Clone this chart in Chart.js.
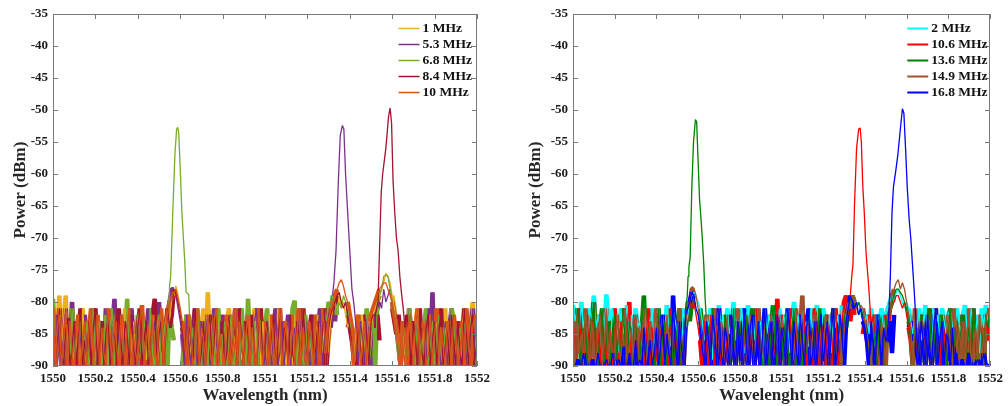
<!DOCTYPE html>
<html lang="en">
<head>
<meta charset="UTF-8">
<title>Spectra</title>
<script src="https://cdn.jsdelivr.net/npm/chart.js"></script>
<style>
  body { margin: 0; background: #fff; }
  .wrap { display: flex; width: 1008px; height: 406px; }
  canvas { display: block; }
</style>
</head>
<body>
<div class="wrap">
  <canvas id="leftChart" width="504" height="406"></canvas>
  <canvas id="rightChart" width="504" height="406"></canvas>
</div>
<script>
// sample grid of the noise floor (nm), 201 samples
const gridStart = 1550, gridStep = 0.01;

const xTicks = [1550, 1550.2, 1550.4, 1550.6, 1550.8, 1551, 1551.2, 1551.4, 1551.6, 1551.8, 1552];
const xTickLabels = ['1550', '1550.2', '1550.4', '1550.6', '1550.8', '1551', '1551.2', '1551.4', '1551.6', '1551.8', '1552'];
const yTicks = [-90, -85, -80, -75, -70, -65, -60, -55, -50, -45, -40, -35];

// ---- left panel ----
const leftLabels = ['1 MHz', '5.3 MHz', '6.8 MHz', '8.4 MHz', '10 MHz'];
const leftColors = ['#EDB120', '#7E2F8E', '#77AC30', '#A2142F', '#D95319'];
// wavelength ranges where the noise floor stays off the bottom (white under the side lobes)
const leftGaps = [[1550.575, 1550.6], [1551.35, 1551.38], [1551.545, 1551.59]];

const noise1 = [
  -80,-90,-84,-79,-88,-83,-79,-90,-85,-82,-90,-87,-83,-90,-81,-86,-90,-84,-89,-82,
  -90,-85,-83,-90,-87,-81,-90,-84,-88,-82,-90,-86,-83,-90,-81,-85,-90,-88,-83,-90,
  -84,-81,-90,-86,-89,-83,-90,-82,-85,-90,-87,-82,-90,-84,-81,-83,-80,-79,-77.5,-79,
  -81,-84,-86,-90,-83,-88,-90,-82,-85,-90,-84,-81,-90,-78.5,-86,-90,-83,-88,-82,-90,
  -85,-90,-83,-81,-90,-87,-84,-90,-82,-89,-85,-90,-83,-86,-90,-81,-88,-84,-90,-83,
  -90,-86,-82,-90,-85,-88,-81,-90,-84,-87,-90,-83,-86,-90,-82,-89,-85,-90,-81,-84,
  -90,-87,-83,-90,-85,-82,-90,-88,-84,-90,-86,-83,-81,-80,-82,-79,-81,-80,-82,-84,
  -83,-85,-90,-84,-88,-90,-82,-86,-90,-83,-87,-82,-81,-80,-79,-78,-77,-75.5,-76,-77,
  -79,-81,-84,-86,-90,-83,-88,-90,-82,-85,-90,-84,-81,-90,-87,-83,-90,-85,-82,-90,
  -86,-83,-90,-84,-88,-81,-90,-85,-82,-90,-87,-83,-90,-84,-81,-86,-90,-83,-80,-88,
  -84];
const noise53 = [
  -84,-90,-82,-87,-90,-85,-81,-90,-86,-80,-88,-90,-83,-86,-90,-82,-89,-84,-90,-81,
  -86,-90,-83,-85,-90,-81,-88,-90,-84,-79.5,-90,-85,-82,-90,-87,-83,-90,-81,-86,-90,
  -84,-88,-82,-90,-85,-81,-90,-86,-83,-90,-80,-87,-90,-84,-82,-80,-78,-78,-79,-81,
  -83,-85,-90,-82,-86,-90,-84,-81,-90,-87,-83,-90,-85,-82,-90,-88,-81,-86,-90,-84,
  -82,-90,-87,-83,-90,-85,-81,-89,-90,-84,-86,-90,-82,-88,-90,-83,-81,-90,-85,-87,
  -90,-82,-86,-90,-84,-81,-90,-88,-83,-90,-85,-82,-90,-86,-84,-90,-81,-87,-90,-83,
  -85,-90,-82,-88,-90,-84,-81,-90,-86,-83,-82,-84,-80,-83,-79,-80,-81,-80,-81,-84,
  -83,-86,-85,-88,-90,-83,-86,-90,-82,-85,-90,-84,-82,-81,-80,-81,-78,-80,-79,-78,
  -80,-82,-84,-87,-90,-83,-86,-90,-81,-85,-90,-88,-82,-90,-84,-86,-90,-81,-88,-78.5,
  -90,-85,-82,-90,-87,-83,-90,-84,-81,-90,-86,-83,-90,-85,-82,-89,-90,-84,-81,-87,
  -90];
const noise68 = [
  -79.5,-90,-85,-82,-88,-90,-83,-86,-90,-81,-87,-90,-84,-82,-90,-86,-83,-90,-88,-81,
  -90,-85,-83,-90,-87,-82,-90,-84,-81,-90,-86,-88,-83,-90,-85,-79.5,-90,-84,-87,-90,
  -82,-86,-90,-83,-85,-90,-81,-88,-90,-84,-82,-90,-86,-83,-90,-81,-84,-86,-88,-90,
  -83,-90,-85,-82,-90,-87,-84,-90,-81,-86,-90,-83,-88,-90,-82,-85,-90,-84,-81,-90,
  -86,-83,-90,-85,-82,-90,-88,-84,-90,-81,-86,-90,-79.5,-87,-90,-83,-85,-90,-82,-88,
  -84,-81,-90,-87,-83,-90,-85,-82,-90,-86,-83,-90,-88,-81,-79.8,-90,-84,-86,-90,-82,
  -90,-85,-88,-90,-82,-84,-90,-86,-81,-83,-80,-81,-79,-80,-82,-80,-81,-79,-80,-81,
  -83,-85,-88,-90,-82,-86,-90,-84,-81,-90,-87,-83,-90,-80,-79,-78,-76,-75.8,-76,-78,
  -80,-82,-84,-87,-90,-83,-86,-90,-81,-85,-88,-90,-82,-86,-90,-84,-81,-90,-87,-83,
  -90,-85,-82,-88,-90,-84,-86,-90,-81,-83,-90,-87,-84,-90,-82,-86,-90,-83,-85,-90,
  -88];
const noise84 = [
  -82,-90,-86,-81,-88,-90,-84,-82.5,-90,-87,-83,-90,-85,-81,-90,-86,-89,-83,-90,-84,
  -81,-90,-87,-83,-90,-85,-82,-90,-88,-84,-90,-81,-86,-90,-83,-85,-90,-82,-87,-90,
  -84,-81,-90,-86,-83,-90,-88,-82,-79.5,-90,-85,-83,-90,-86,-81,-84,-82,-78,-78.5,-80,
  -82,-84,-87,-90,-83,-86,-90,-81,-85,-90,-88,-83,-90,-84,-82,-90,-86,-81,-90,-85,
  -83,-90,-88,-82,-90,-86,-84,-90,-81,-87,-90,-83,-85,-90,-82,-88,-90,-84,-81,-90,
  -86,-83,-90,-85,-82,-90,-87,-81,-90,-84,-86,-90,-82,-88,-90,-83,-85,-90,-81,-86,
  -90,-84,-82,-90,-87,-83,-90,-85,-81,-90,-84,-82,-81,-80,-79,-78.5,-80,-81,-80,-82,
  -84,-86,-89,-90,-83,-87,-90,-82,-85,-90,-83,-82,-84,-82,-86,-83,-81,-80,-81,-82,
  -81,-83,-85,-82,-86,-84,-88,-82,-85,-90,-83,-86,-90,-81,-88,-90,-84,-82,-90,-86,
  -83,-90,-85,-81,-90,-87,-84,-90,-82,-86,-90,-83,-88,-90,-81,-85,-90,-84,-82,-90,
  -90];
const noise10 = [
  -81,-90,-84,-82,-90,-86,-81.5,-90,-83,-88,-90,-85,-82,-90,-87,-83,-90,-84,-81,-90,
  -86,-82,-90,-84,-88,-90,-81,-85,-90,-83,-87,-90,-82,-86,-90,-84,-81,-90,-85,-88,
  -90,-83,-80.5,-90,-86,-84,-90,-82,-87,-90,-83,-81,-90,-85,-82,-80,-79,-78.5,-78,-79.5,
  -81,-83,-86,-90,-82,-85,-90,-88,-81,-90,-84,-86,-90,-82,-87,-90,-83,-81,-90,-85,
  -88,-90,-82,-84,-90,-86,-81,-90,-83,-87,-90,-85,-82,-90,-84,-88,-90,-81,-86,-90,
  -83,-85,-90,-82,-87,-90,-84,-81,-90,-86,-83,-90,-88,-82,-90,-85,-81,-90,-84,-87,
  -90,-83,-86,-90,-82,-85,-90,-81,-84,-88,-83,-81,-80,-79,-78,-77,-76.5,-77.5,-79,-80,
  -82,-84,-90,-86,-82,-90,-87,-83,-90,-85,-82,-81,-80,-79,-78,-77.5,-77,-77,-78,-79,
  -80,-82,-84,-86,-90,-83,-87,-90,-82,-85,-90,-84,-81,-90,-86,-83,-90,-88,-82,-90,
  -85,-81,-90,-84,-87,-90,-83,-86,-90,-82,-85,-90,-88,-83,-90,-81,-86,-90,-84,-82,
  -85];

const peak53X = [1551.3, 1551.315, 1551.325, 1551.335, 1551.345, 1551.355, 1551.365, 1551.372, 1551.38, 1551.39, 1551.4, 1551.41, 1551.42, 1551.43];
const peak53Y = [-82, -80, -77, -72, -62, -54, -52.4, -53, -60, -66, -72, -78, -80.5, -84];
const peak68X = [1550.545, 1550.55, 1550.555, 1550.565, 1550.575, 1550.583, 1550.588, 1550.593, 1550.6, 1550.608, 1550.615, 1550.622, 1550.628, 1550.64, 1550.648];
const peak68Y = [-82, -77.5, -76, -66, -57, -53, -52.7, -53.5, -59, -66, -70, -74, -78.5, -78.8, -85];
const peak84X = [1551.52, 1551.533, 1551.54, 1551.548, 1551.555, 1551.57, 1551.583, 1551.59, 1551.597, 1551.604, 1551.612, 1551.62, 1551.628, 1551.636, 1551.645, 1551.652, 1551.66];
const peak84Y = [-82, -80, -72, -63, -60, -56, -51, -49.7, -52, -61, -66, -70, -72, -76, -79, -81, -84];

// ---- right panel ----
const rightLabels = ['2 MHz', '10.6 MHz', '13.6 MHz', '14.9 MHz', '16.8 MHz'];
const rightColors = ['#00FFFF', '#FF0000', '#008000', '#A0522D', '#0000FF'];
const rightGaps = [[1550.585, 1550.6], [1551.355, 1551.38], [1551.545, 1551.6]];

const noise2 = [
  -80.5,-83,-81,-85,-80,-84,-82,-86,-81,-83,-79,-84,-82,-87,-81,-85,-78.8,-83,-86,-81,
  -84,-82,-88,-81,-85,-83,-80.5,-86,-82,-90,-81,-84,-83,-87,-80,-85,-82,-84,-81,-88,
  -83,-81,-86,-82,-85,-80.5,-84,-87,-81,-83,-85,-82,-88,-81,-84,-82,-80,-79,-78.5,-79,
  -80,-81,-83,-86,-82,-84,-81,-89,-83,-85,-80.5,-84,-82,-87,-81,-85,-83,-80,-86,-82,
  -84,-81,-88,-83,-80.5,-85,-82,-86,-81,-84,-83,-90,-81,-85,-82,-84,-80.5,-87,-83,-81,
  -85,-82,-84,-81,-88,-83,-80,-85,-82,-86,-81,-84,-83,-87,-81,-85,-82,-80.5,-84,-86,
  -81,-83,-85,-82,-88,-81,-84,-82,-86,-80.5,-83,-82,-81,-80,-79,-80,-81,-80,-82,-81,
  -83,-82,-85,-81,-84,-87,-82,-83,-81,-85,-82,-81,-80,-79,-80,-78.5,-78,-79,-80,-81,
  -80,-81,-83,-85,-82,-84,-81,-86,-83,-80.5,-85,-82,-88,-81,-84,-82,-86,-81,-83,-85,
  -82,-81,-84,-87,-81,-83,-85,-82,-80.5,-84,-86,-81,-83,-85,-82,-88,-81,-84,-80.5,-83,
  -84];
const noise106 = [
  -82.5,-90,-85,-81,-88,-90,-84,-82,-90,-86,-80,-89,-84,-90,-82,-87,-90,-83,-85,-90,
  -81,-86,-90,-83,-88,-90,-84,-80,-90,-85,-82,-90,-87,-83,-90,-86,-81,-90,-84,-88,
  -90,-82,-85,-90,-83,-87,-90,-81,-84,-90,-86,-82,-90,-85,-83,-81,-80,-81,-80,-82,
  -84,-86,-90,-83,-87,-90,-82,-85,-90,-84,-81,-90,-86,-83,-88,-90,-82,-85,-90,-84,
  -83,-90,-87,-82,-90,-86,-84,-90,-81,-85,-90,-85,-83,-90,-88,-82,-90,-86,-79.5,-90,
  -82,-87,-90,-84,-81,-90,-86,-83,-90,-85,-88,-82,-90,-84,-86,-90,-81,-87,-90,-83,
  -85,-90,-82,-88,-90,-84,-81,-90,-86,-83,-80,-79,-81,-83,-80,-82,-84,-81,-83,-85,
  -83,-86,-82,-88,-82,-85,-90,-83,-87,-90,-82,-84,-81,-80,-80,-79,-79,-80,-81,-80,
  -82,-84,-86,-90,-83,-87,-90,-82,-85,-90,-84,-81,-90,-86,-83,-88,-90,-82,-85,-90,
  -84,-81,-90,-87,-83,-90,-85,-82,-90,-86,-84,-90,-81,-87,-90,-83,-85,-90,-82,-86,
  -83];
const noise136 = [
  -87,-90,-81,-84,-90,-86,-82,-90,-85,-83,-80,-88,-90,-84,-81,-90,-86,-83,-90,-85,
  -82,-89,-84,-90,-81,-86,-90,-83,-85,-90,-82,-87,-90,-84,-79,-90,-85,-83,-88,-90,
  -84,-81,-90,-86,-83,-90,-85,-82,-90,-87,-84,-81,-90,-86,-84,-81,-83,-80,-79,-80,
  -82,-81,-84,-86,-83,-84,-90,-81,-85,-90,-83,-86,-90,-82,-84,-90,-88,-81,-90,-85,
  -83,-90,-86,-82,-90,-84,-81,-90,-85,-83,-88,-90,-82,-86,-90,-84,-80.5,-87,-90,-83,
  -85,-90,-82,-87,-90,-84,-81,-90,-86,-83,-90,-85,-88,-82,-90,-84,-86,-90,-81,-85,
  -90,-82,-85,-90,-84,-81,-90,-86,-83,-88,-82,-84,-81,-80,-79,-80,-81,-80,-81,-82,
  -83,-85,-88,-90,-84,-87,-90,-82,-85,-90,-84,-82,-81,-80,-79,-78,-78,-78.5,-79,-80,
  -81,-83,-85,-90,-83,-85,-90,-82,-86,-90,-84,-81,-90,-87,-83,-90,-85,-82,-88,-90,
  -84,-81,-90,-86,-83,-90,-85,-82,-90,-87,-84,-90,-81,-86,-90,-83,-85,-90,-82,-84,
  -81];
const noise149 = [
  -83,-90,-82,-88,-85,-90,-81,-86,-90,-83,-87,-90,-84,-82,-90,-86,-81,-90,-85,-88,
  -90,-82,-86,-90,-83,-81,-90,-87,-84,-90,-82,-85,-90,-88,-81,-90,-86,-83,-90,-84,
  -81,-90,-85,-88,-90,-82,-86,-90,-83,-85,-90,-81,-87,-90,-84,-80,-80.5,-78,-77.8,-79,
  -81,-83,-86,-90,-82,-88,-90,-84,-81,-90,-85,-83,-90,-87,-82,-90,-84,-86,-90,-81,
  -85,-90,-83,-88,-90,-82,-86,-90,-84,-81,-90,-87,-83,-90,-85,-82,-90,-88,-84,-90,
  -83,-86,-90,-82,-85,-90,-88,-81,-90,-84,-79,-90,-86,-83,-90,-85,-82,-90,-87,-84,
  -90,-82,-86,-90,-84,-81,-90,-87,-83,-90,-85,-82,-80,-81,-79,-80,-81,-82,-80.5,-81,
  -83,-85,-87,-90,-84,-82,-88,-90,-83,-86,-90,-82,-81,-79,-78,-77,-76.5,-78,-77,-78,
  -80,-82,-84,-90,-81,-86,-90,-83,-85,-90,-82,-87,-90,-84,-81,-90,-86,-83,-90,-85,
  -82,-87,-90,-81,-84,-90,-86,-83,-90,-85,-81,-90,-87,-84,-90,-82,-86,-90,-83,-81,
  -82.5];
const noise168 = [
  -90,-90,-89,-90,-90,-88,-90,-90,-90,-89,-90,-90,-88,-90,-90,-90,-89,-90,-90,-88,
  -90,-90,-89,-90,-87,-90,-90,-88,-90,-90,-86,-90,-89,-90,-84,-90,-90,-86,-90,-88,
  -84,-90,-87,-82,-90,-85,-88,-90,-79,-86,-90,-83,-87,-90,-82,-81,-80,-78.5,-79,-81,
  -82,-84,-87,-90,-83,-86,-90,-82,-85,-90,-81,-88,-90,-84,-86,-90,-82,-87,-90,-83,
  -85,-90,-81,-86,-90,-84,-82,-90,-87,-83,-90,-85,-81,-90,-86,-83,-90,-88,-82,-90,
  -84,-86,-90,-81,-85,-90,-83,-87,-90,-82,-86,-90,-84,-81,-90,-88,-83,-90,-85,-82,
  -90,-86,-83,-90,-84,-81,-90,-87,-82,-85,-90,-83,-81,-79,-80,-81,-80,-82,-81,-83,
  -84,-86,-90,-83,-87,-90,-82,-85,-90,-84,-86,-86,-83,-88,-82,-84,-81,-80,-82,-83,
  -81,-84,-83,-86,-85,-88,-90,-83,-86,-90,-82,-87,-90,-84,-81,-90,-86,-83,-90,-85,
  -86,-90,-84,-90,-88,-90,-90,-89,-90,-90,-88,-90,-90,-90,-89,-90,-90,-88,-90,-90,
  -90];

const peak106X = [1551.32, 1551.33, 1551.337, 1551.343, 1551.35, 1551.36, 1551.37, 1551.377, 1551.383, 1551.39, 1551.397, 1551.405, 1551.412, 1551.418, 1551.423, 1551.43];
const peak106Y = [-82, -79, -76, -74, -65, -56, -53, -52.8, -55, -62, -66, -72, -75, -77.5, -80, -84];
const peak136X = [1550.54, 1550.548, 1550.552, 1550.556, 1550.562, 1550.57, 1550.578, 1550.587, 1550.593, 1550.6, 1550.607, 1550.614, 1550.62, 1550.627, 1550.633, 1550.64];
const peak136Y = [-82, -79, -76, -74.5, -73, -62, -55, -51.5, -51.8, -58, -64, -67, -70, -74, -79, -83];
const peak168X = [1551.505, 1551.515, 1551.522, 1551.53, 1551.537, 1551.548, 1551.558, 1551.57, 1551.58, 1551.587, 1551.595, 1551.603, 1551.612, 1551.62, 1551.628, 1551.636, 1551.643, 1551.65];
const peak168Y = [-86, -82, -76, -66, -62, -59.5, -57, -53, -49.8, -50.5, -56, -62, -67, -70, -74, -78, -82, -86];

const gridX = i => Math.round((gridStart + i * gridStep) * 1000) / 1000;

// noise floor, with the peak samples spliced in where a channel lases
function buildSeries(noise, peakX, peakY) {
  let pts = noise.map((y, i) => ({ x: gridX(i), y: y }));
  if (peakX) {
    const lo = peakX[0], hi = peakX[peakX.length - 1];
    pts = pts.filter(p => p.x < lo || p.x > hi);
    peakX.forEach((x, i) => pts.push({ x: x, y: peakY[i] }));
    pts.sort((a, b) => a.x - b.x);
  }
  return pts;
}

// the densely sampled floor reads as a solid band: a heavy stroke of the same
// noise, broken where the reference stays white
function buildFloor(noise, gaps) {
  return noise.map((y, i) => {
    const x = gridX(i);
    const open = gaps.some(g => x >= g[0] && x <= g[1]);
    return { x: x, y: open ? null : y };
  });
}

Chart.defaults.font.family = '"Liberation Serif", "Times New Roman", serif';

// box + inward ticks like matlab
const framePlugin = {
  id: 'frame',
  afterDatasetsDraw(chart) {
    const { ctx, chartArea: a, scales } = chart;
    const x = scales.x, y = scales.y;
    ctx.save();
    ctx.strokeStyle = '#7a7a7a';
    ctx.lineWidth = 1;
    ctx.strokeRect(a.left + 0.5, a.top + 0.5, a.width - 1, a.height - 1);
    ctx.beginPath();
    x.ticks.forEach(t => {
      const px = Math.round(x.getPixelForValue(t.value)) + 0.5;
      ctx.moveTo(px, a.bottom); ctx.lineTo(px, a.bottom - 5);
      ctx.moveTo(px, a.top); ctx.lineTo(px, a.top + 5);
    });
    y.ticks.forEach(t => {
      const py = Math.round(y.getPixelForValue(t.value)) + 0.5;
      ctx.moveTo(a.left, py); ctx.lineTo(a.left + 5, py);
      ctx.moveTo(a.right, py); ctx.lineTo(a.right - 5, py);
    });
    ctx.stroke();
    ctx.restore();
  }
};

const legendPlugin = {
  id: 'insideLegend',
  afterDatasetsDraw(chart, args, opts) {
    const { ctx, chartArea: a } = chart;
    const sets = chart.data.datasets.filter(d => !d.floor);
    ctx.save();
    ctx.font = 'bold 13.5px "Liberation Serif"';
    ctx.textBaseline = 'middle';
    ctx.fillStyle = '#111';
    const maxW = Math.max(...sets.map(d => ctx.measureText(d.label).width));
    const textX = a.right - opts.rightGap - maxW;
    sets.forEach((d, i) => {
      const yy = a.top + 14.5 + i * 16;
      ctx.strokeStyle = d.borderColor;
      ctx.lineWidth = opts.lineWidth;
      ctx.beginPath();
      ctx.moveTo(textX - 24, yy);
      ctx.lineTo(textX - 3, yy);
      ctx.stroke();
      ctx.fillText(d.label, textX, yy);
    });
    ctx.restore();
  }
};

function makeChart(id, labels, colors, noises, series, gaps, xTitle, cfg) {
  const n = series.length;
  const floors = noises.map((nz, i) => ({
    floor: true,
    data: buildFloor(nz, gaps),
    borderColor: colors[i],
    borderWidth: 4.6,
    borderJoinStyle: 'bevel',
    pointRadius: 0,
    fill: false,
    tension: 0,
    clip: 0,
    order: 10 + n - 1 - i
  }));
  const lines = series.map((pts, i) => ({
    label: labels[i],
    data: pts,
    borderColor: colors[i],
    borderWidth: 1.3,
    borderJoinStyle: 'bevel',
    pointRadius: 0,
    fill: false,
    tension: 0,
    clip: 0,
    order: n - 1 - i
  }));
  return new Chart(document.getElementById(id), {
    type: 'line',
    data: { datasets: lines.concat(floors) },
    plugins: [framePlugin, legendPlugin],
    options: {
      responsive: false,
      animation: false,
      layout: { padding: { top: 14, right: cfg.padRight, left: 0, bottom: 0 } },
      plugins: {
        legend: { display: false },
        tooltip: { enabled: false },
        insideLegend: { lineWidth: cfg.legendLine, rightGap: cfg.legendGap }
      },
      scales: {
        x: {
          type: 'linear',
          min: 1550,
          max: 1552,
          afterBuildTicks: s => { s.ticks = xTicks.map(v => ({ value: v })); },
          afterFit: s => { s.height = 40; },
          grid: { display: false, drawTicks: false },
          border: { display: false },
          ticks: {
            autoSkip: false, maxRotation: 0, padding: 5, color: '#1a1a1a',
            font: { size: 13, weight: 'bold' },
            callback: (v, i) => xTickLabels[i]
          },
          title: {
            display: true, text: xTitle, color: '#262626',
            font: { size: 17, weight: 'bold' }, padding: { top: 0, bottom: 0 }
          }
        },
        y: {
          min: -90,
          max: -35,
          afterBuildTicks: s => { s.ticks = yTicks.map(v => ({ value: v })); },
          afterFit: s => { s.width = cfg.yWidth; },
          grid: { display: false, drawTicks: false },
          border: { display: false },
          ticks: {
            padding: 5, color: '#1a1a1a',
            font: { size: 13, weight: 'bold' },
            callback: v => String(v)
          },
          title: {
            display: true, text: 'Power (dBm)', color: '#262626',
            font: { size: 17, weight: 'bold' }, padding: { top: cfg.yTitlePad, bottom: 0 }
          }
        }
      }
    }
  });
}

makeChart('leftChart', leftLabels, leftColors,
  [noise1, noise53, noise68, noise84, noise10],
  [
    buildSeries(noise1),
    buildSeries(noise53, peak53X, peak53Y),
    buildSeries(noise68, peak68X, peak68Y),
    buildSeries(noise84, peak84X, peak84Y),
    buildSeries(noise10)
  ], leftGaps, 'Wavelength (nm)',
  { padRight: 27, yWidth: 53, yTitlePad: 10, legendLine: 1.5, legendGap: 5 });

makeChart('rightChart', rightLabels, rightColors,
  [noise2, noise106, noise136, noise149, noise168],
  [
    buildSeries(noise2),
    buildSeries(noise106, peak106X, peak106Y),
    buildSeries(noise136, peak136X, peak136Y),
    buildSeries(noise149),
    buildSeries(noise168, peak168X, peak168Y)
  ], rightGaps, 'Wavelenght (nm)',
  { padRight: 15, yWidth: 69, yTitlePad: 21.5, legendLine: 2, legendGap: 2.5 });
</script>
</body>
</html>
